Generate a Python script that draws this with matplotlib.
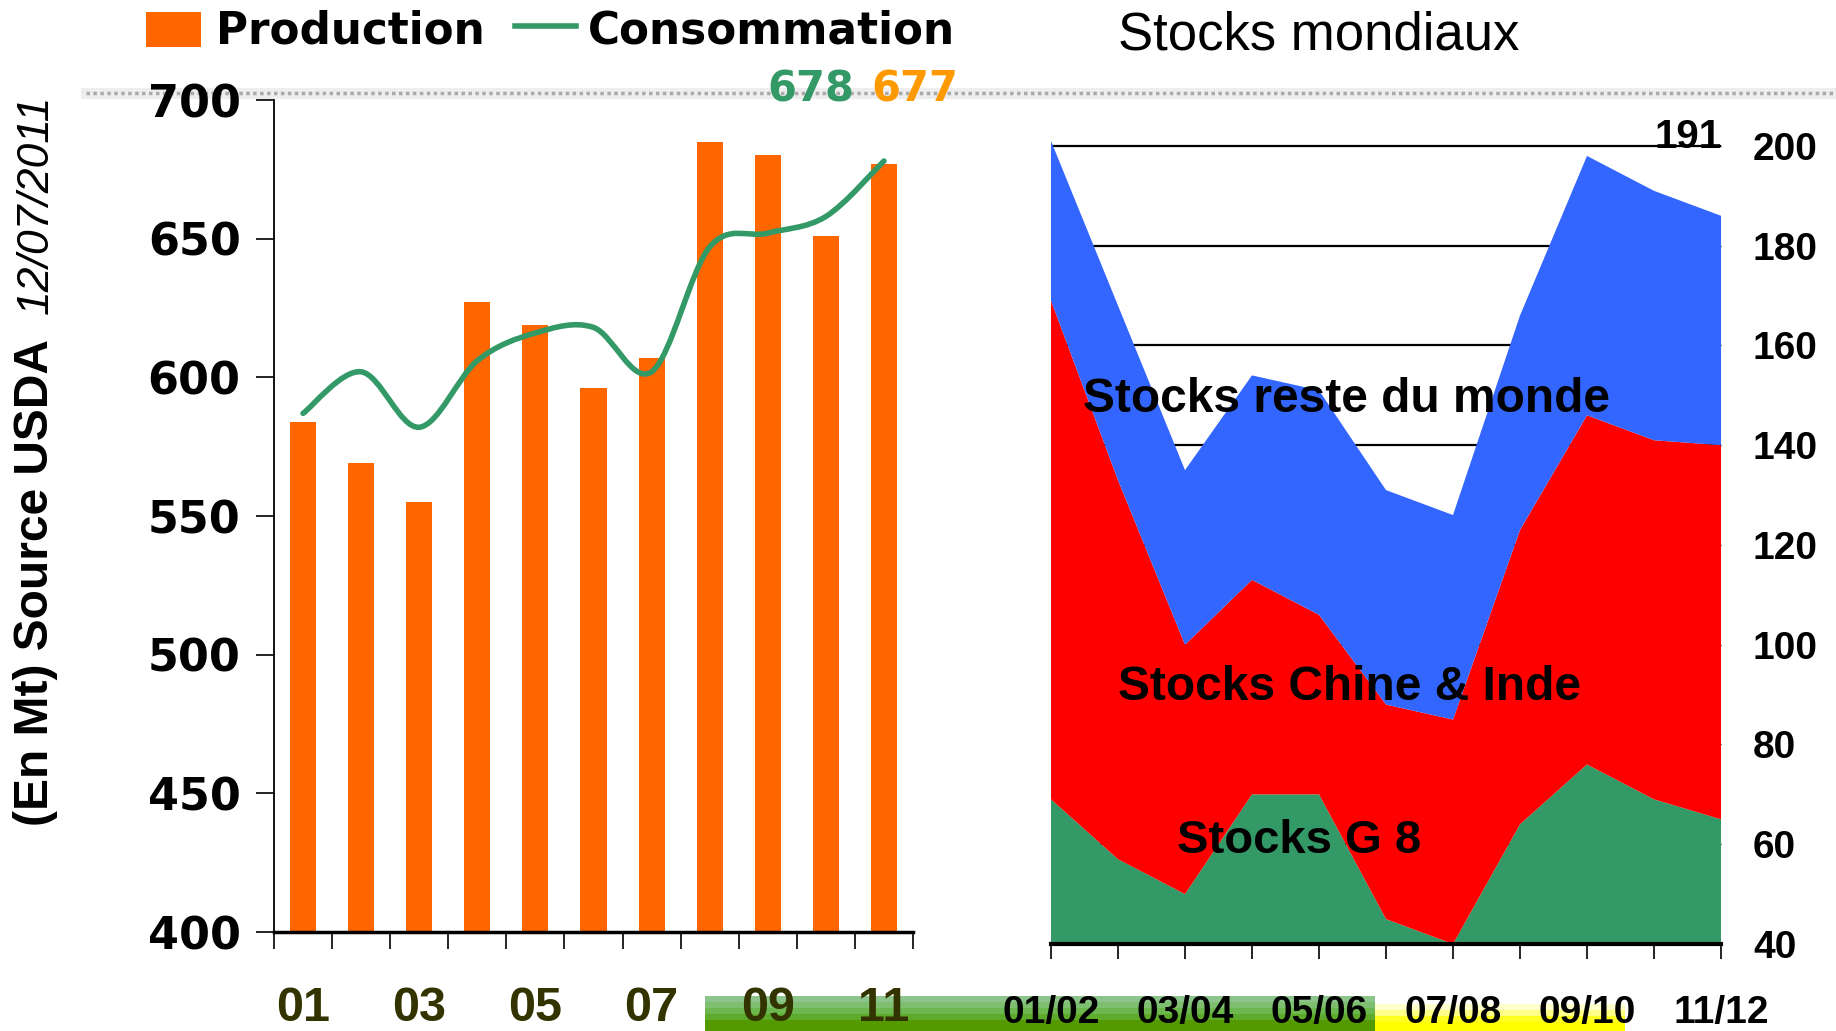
import numpy as np
import matplotlib.pyplot as plt
from matplotlib.path import Path
from matplotlib.patches import PathPatch, Rectangle
from matplotlib.lines import Line2D

W, H = 1836, 1031

# production / consommation mondiale (Mt)
annees = ['01', '02', '03', '04', '05', '06', '07', '08', '09', '10', '11']
production = [584, 569, 555, 627, 619, 596, 607, 685, 680, 651, 677]
consommation = [587, 602, 582, 606, 616, 618, 602, 647, 652, 658, 678]

# stocks mondiaux (Mt), empiles
campagnes = ['01/02', '02/03', '03/04', '04/05', '05/06', '06/07',
             '07/08', '08/09', '09/10', '10/11', '11/12']
stocks_g8 = [69, 57, 50, 70, 70, 45, 40, 64, 76, 69, 65]
stocks_chine_inde = [100, 76, 50, 43, 36, 43, 45, 59, 70, 72, 75]
stocks_reste = [32, 35, 35, 41, 45, 43, 41, 43, 52, 50, 46]

ORANGE = '#FF6600'
VERT = '#339966'
ARIAL = ['Liberation Sans', 'DejaVu Sans']


def fx(x):
    return x / W


def fy(y):
    return 1 - y / H


fig = plt.figure(figsize=(W / 100, H / 100), dpi=100)

# decorative dotted rule + bottom band (behind everything)
fig.add_artist(Line2D([fx(86), 1], [fy(93), fy(93)], color='#eeeeee', lw=8,
                      zorder=-2))
fig.add_artist(Line2D([fx(86), 1], [fy(93), fy(93)], color='#aaaaaa', lw=2.5,
                      linestyle=(0, (1, 1)), zorder=-1))
band = ['#8cc48c', '#7dbf6e', '#6cb84f', '#5eaa2a', '#559900', '#559900']
for i, c in enumerate(band):
    y0 = 996 + i * 6
    fig.add_artist(Rectangle((fx(705), fy(y0 + 6)), (1375 - 705) / W, 6 / H,
                             color=c, lw=0, zorder=-1))
jaune = ['#ffffcc', '#ffff88', '#ffff22', '#ffff00', '#ffff00']
for i, c in enumerate(jaune):
    y0 = 1004 + i * 6
    fig.add_artist(Rectangle((fx(1375), fy(y0 + 6)), (1625 - 1375) / W, 6 / H,
                             color=c, lw=0, zorder=-1))

# ---------- left chart ----------
ax = fig.add_axes([fx(274), fy(932), (913 - 274) / W, (932 - 100) / H])
ax.patch.set_alpha(0)
x = np.arange(len(annees))
ax.bar(x, production, width=0.45, color=ORANGE, zorder=2)

# smoothed line (bezier through the points, like the excel "smoothed line")
pts = np.column_stack([x, consommation]).astype(float)
ext = np.vstack([pts[0], pts, pts[-1]])
verts = [tuple(pts[0])]
codes = [Path.MOVETO]
for i in range(len(pts) - 1):
    p0, p1, p2, p3 = ext[i], ext[i + 1], ext[i + 2], ext[i + 3]
    c1 = p1 + (p2 - p0) / 6
    c2 = p2 - (p3 - p1) / 6
    verts += [tuple(c1), tuple(c2), tuple(p2)]
    codes += [Path.CURVE4] * 3
ax.add_patch(PathPatch(Path(verts, codes), fill=False, edgecolor=VERT, lw=4,
                       zorder=3, capstyle='round'))

ax.set_xlim(-0.5, 10.5)
ax.set_ylim(400, 700)
ax.set_yticks(np.arange(400, 701, 50))
ax.set_xticks(x[::2])
ax.set_xticklabels(annees[::2], family=ARIAL, weight='bold', fontsize=35,
                   color='#333300')
ax.set_xticks(np.arange(-0.5, 11, 1), minor=True)
ax.tick_params(axis='x', which='major', length=0, pad=39)
ax.tick_params(axis='x', which='minor', length=12, width=1.2, direction='out')
ax.tick_params(axis='y', length=13, width=1.2, pad=11)
for lab in ax.get_yticklabels():
    lab.set_family('DejaVu Sans')
    lab.set_weight('bold')
    lab.set_fontsize(32)
for s in ['top', 'right']:
    ax.spines[s].set_visible(False)
ax.spines['left'].set_linewidth(1.3)
ax.spines['bottom'].set_linewidth(2.5)

# ---------- right chart ----------
ax2 = fig.add_axes([fx(1051), fy(944), (1721 - 1051) / W, (944 - 121) / H])
ax2.patch.set_alpha(0)
x2 = np.arange(len(campagnes))
ax2.stackplot(x2, stocks_g8, stocks_chine_inde, stocks_reste,
              colors=[VERT, '#FF0000', '#3366FF'], lw=0, zorder=2)
ax2.set_xlim(0, 10)
ax2.set_ylim(40, 205)
ax2.set_yticks(np.arange(40, 201, 20))
ax2.yaxis.grid(True, color='black', lw=1.6)
ax2.set_axisbelow(True)
ax2.yaxis.tick_right()
ax2.set_xticks(x2)
ax2.set_xticklabels([c if i % 2 == 0 else '' for i, c in enumerate(campagnes)],
                    family=ARIAL, weight='bold', fontsize=28)
ax2.tick_params(axis='x', length=11, width=1.2, direction='out', pad=26)
ax2.tick_params(axis='y', length=4, width=1, direction='in', pad=23)
for lab in ax2.get_yticklabels():
    lab.set_family(ARIAL)
    lab.set_weight('bold')
    lab.set_fontsize(28)
for s in ['top', 'right', 'left']:
    ax2.spines[s].set_visible(False)
ax2.spines['bottom'].set_linewidth(3)

# ---------- texts ----------
fig.add_artist(Rectangle((fx(146), fy(47)), 55 / W, 35 / H, color=ORANGE, lw=0))
fig.text(fx(216), fy(31), 'Production', fontsize=31.5, weight='bold',
         va='center', ha='left')
fig.add_artist(Line2D([fx(515), fx(576)], [fy(26), fy(26)], color=VERT, lw=4))
fig.text(fx(588), fy(31), 'Consommation', fontsize=31.5, weight='bold',
         va='center', ha='left')
fig.text(fx(1118), fy(35), 'Stocks mondiaux', family=ARIAL, fontsize=38,
         va='center', ha='left')
fig.text(fx(811), fy(90), str(consommation[-1]), fontsize=30, weight='bold',
         color=VERT, ha='center', va='center')
fig.text(fx(915), fy(90), str(production[-1]), fontsize=30, weight='bold',
         color='#FF9900', ha='center', va='center')

fig.text(fx(36), fy(826), '(En Mt) Source USDA', family=ARIAL, weight='bold',
         fontsize=34.5, rotation=90, ha='center', va='bottom')
fig.text(fx(36), fy(94), '12/07/2011', family=ARIAL, style='italic',
         fontsize=32, rotation=90, ha='center', va='top')

fig.text(fx(1083), fy(400), 'Stocks reste du monde', family=ARIAL,
         weight='bold', fontsize=34.5, va='center', ha='left')
fig.text(fx(1118), fy(688), 'Stocks Chine & Inde', family=ARIAL,
         weight='bold', fontsize=34.5, va='center', ha='left')
fig.text(fx(1177), fy(841), 'Stocks G 8', family=ARIAL,
         weight='bold', fontsize=34, va='center', ha='left')
fig.text(fx(1688), fy(137), '191', family=ARIAL, weight='bold',
         fontsize=29, va='center', ha='center')

fig.savefig('out.png', dpi=100)
